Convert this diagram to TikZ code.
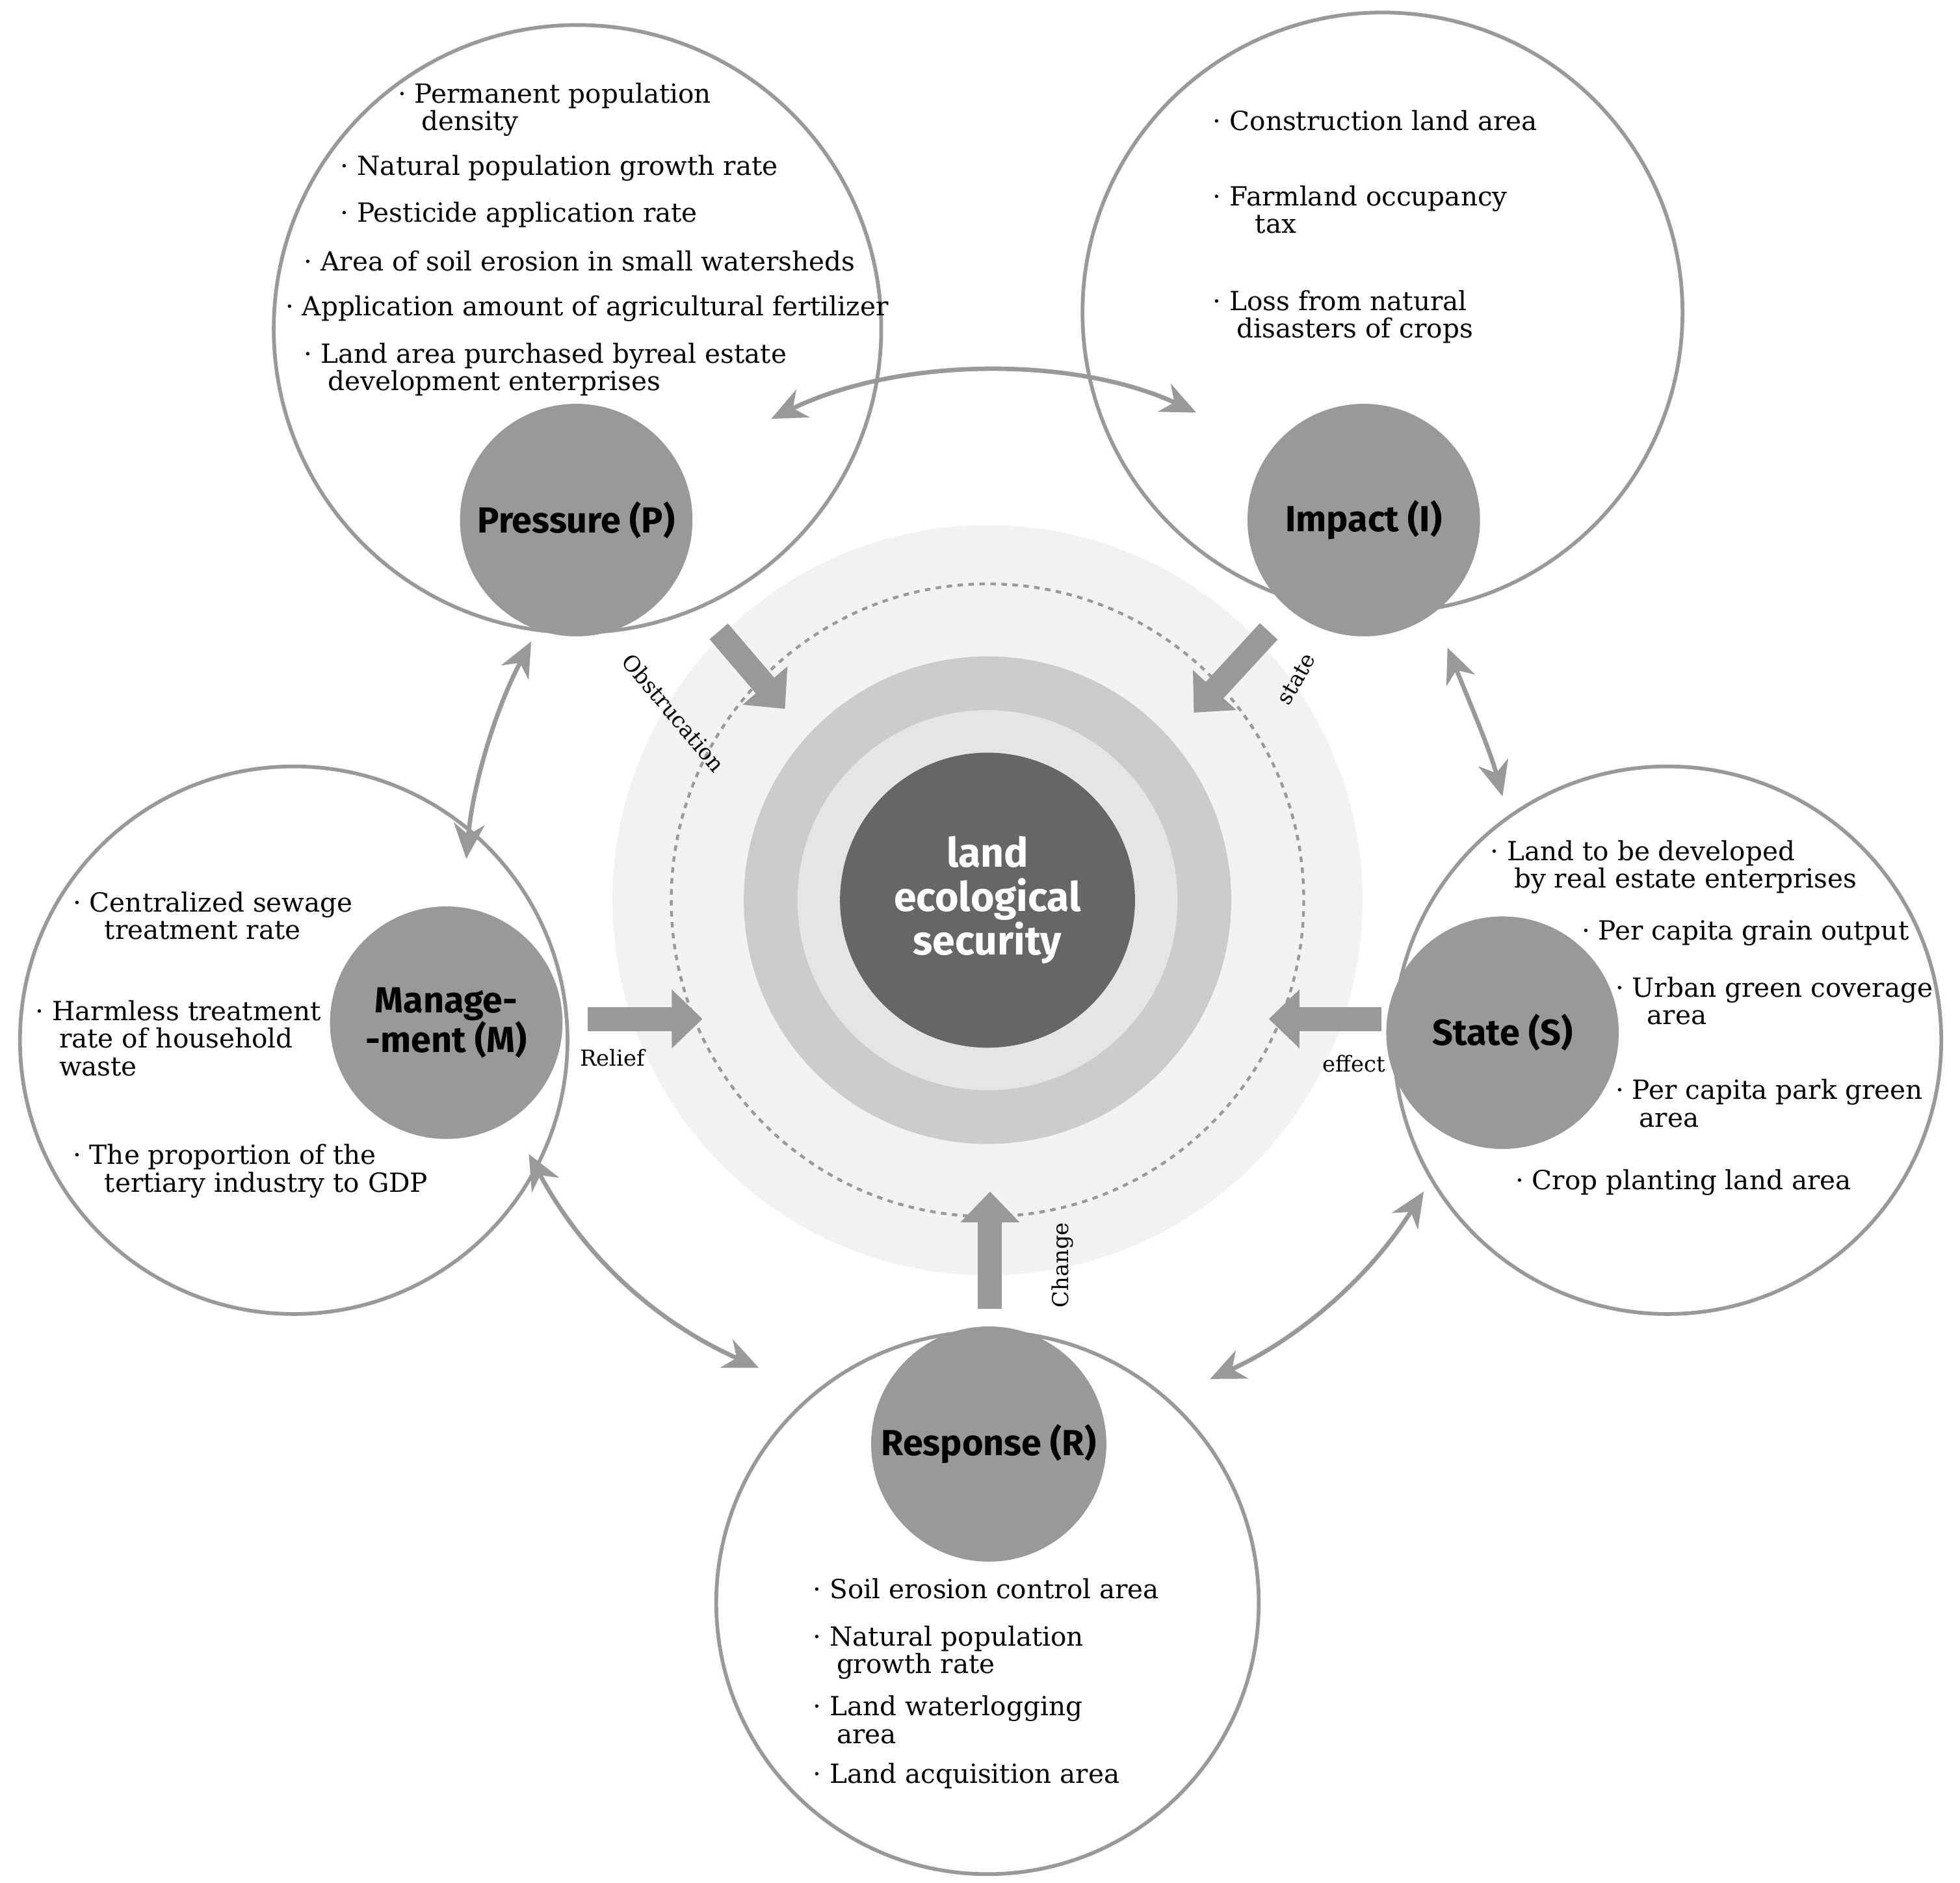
\documentclass[tikz,border=0pt]{standalone}
\usepackage{fontspec}
\setmainfont{DejaVu Serif}
\newfontfamily\lab{Fira Sans}
\usetikzlibrary{arrows.meta}
\definecolor{g9}{HTML}{999999}
\begin{document}
\begin{tikzpicture}[x=0.02cm,y=-0.02cm,
 big/.style={draw=g9,line width=1.7pt,fill=white},
 dot/.style={fill=g9},
 lbl/.style={font=\lab\bfseries\fontsize{16.5}{18}\selectfont,align=center},
 itm/.style={anchor=north west,inner sep=0pt,align=left,font=\fontsize{12}{12.5}\selectfont},
 thick arr/.style={g9,line width=11pt,-{Triangle[length=14pt,width=26pt]}},
 dbl/.style={g9,line width=2pt,{Stealth[length=16pt,width=14pt,inset=5pt]}-{Stealth[length=16pt,width=14pt,inset=5pt]}},
 sm/.style={font=\fontsize{10}{12}\selectfont}]
\useasboundingbox (0,0) rectangle (1568,1506);
% big circles
\node[big,circle,minimum size=486*0.02cm] (P) at (462,263) {};
\node[big,circle,minimum size=480*0.02cm] (I) at (1106,250) {};
\node[big,circle,minimum size=438*0.02cm] (M) at (235,832) {};
\node[big,circle,minimum size=438*0.02cm] (S) at (1334,832) {};
\node[big,circle,minimum size=434*0.02cm] (R) at (790,1282) {};
% centre
\fill[gray!10] (790,720) circle (300);
\draw[g9,line width=1.3pt,dash pattern=on 2.5pt off 2.5pt] (790,720) circle (253);
\fill[gray!40] (790,720) circle (195);
\fill[gray!20] (790,720) circle (152);
\node[circle,fill=black!60,minimum size=236*0.02cm,text=white,lbl,font=\lab\bfseries\fontsize{18.5}{20}\selectfont] (C) at (790,720) {land\\ecological\\security};
% small circles
\node[dot,circle,minimum size=186*0.02cm,lbl] (p) at (461,416) {Pressure (P)};
\node[dot,circle,minimum size=186*0.02cm,lbl] (i) at (1091,416) {Impact (I)};
\node[dot,circle,minimum size=186*0.02cm,lbl] (m) at (357,818) {Manage-\\-ment (M)};
\node[dot,circle,minimum size=186*0.02cm,lbl] (s) at (1202,826) {State (S)};
\node[dot,circle,minimum size=186*0.02cm,lbl] (r) at (791,1155) {Response (R)};
% thick arrows
\coordinate (pa) at (575,505); \coordinate (pb) at (628,567);
\coordinate (ia) at (1015,505); \coordinate (ib) at (955,570);
\coordinate (ma) at (470,815); \coordinate (mb) at (562,815);
\coordinate (sa) at (1105,815); \coordinate (sb) at (1015,815);
\coordinate (ra) at (792,1047); \coordinate (rb) at (792,953);
\draw[thick arr] (pa) -- (pb);
\draw[thick arr] (ia) -- (ib);
\draw[thick arr] (ma) -- (mb);
\draw[thick arr] (sa) -- (sb);
\draw[thick arr] (ra) -- (rb);
\node[sm,rotate=-50] (t1) at (539,570) {Obstrucation};
\node[sm,rotate=60] (t2) at (1037,543) {state};
\node[sm] (t3) at (490,846) {Relief};
\node[sm] (t4) at (1083,851) {effect};
\node[sm,rotate=90] (t5) at (850,1012) {Change};
% double arrows
\coordinate (a1) at (617,335); \coordinate (a2) at (957,330);
\coordinate (b1) at (425,513); \coordinate (b2) at (373,687);
\coordinate (c1) at (1158,518); \coordinate (c2) at (1202,637);
\coordinate (d1) at (423,923); \coordinate (d2) at (607,1094);
\coordinate (e1) at (1139,953); \coordinate (e2) at (968,1103);
\draw[dbl] (a1) .. controls (720,285) and (860,285) .. (a2);
\draw[dbl] (b1) .. controls (395,570) and (378,630) .. (b2);
\draw[dbl] (c1) .. controls (1175,560) and (1192,600) .. (c2);
\draw[dbl] (d1) .. controls (470,1010) and (530,1060) .. (d2);
\draw[dbl] (e1) .. controls (1090,1030) and (1030,1075) .. (e2);
% texts
\def\b{\textperiodcentered\ }
\node[itm] at (318,66) {\b Permanent population\\\hspace{0.9em}density};
\node[itm] at (272,124) {\b Natural population growth rate};
\node[itm] at (272,161) {\b Pesticide application rate};
\node[itm] at (243,200) {\b Area of soil erosion in small watersheds};
\node[itm] at (228,236) {\b Application amount of agricultural fertilizer};
\node[itm] at (243,274) {\b Land area purchased byreal estate\\\hspace{0.9em}development enterprises};
\node[itm] at (970,88) {\b Construction land area};
\node[itm] at (970,148) {\b Farmland occupancy\\\hspace{1.6em}tax};
\node[itm] at (970,232) {\b Loss from natural\\\hspace{0.9em}disasters of crops};
\node[itm] at (58,713) {\b Centralized sewage\\\hspace{1.2em}treatment rate};
\node[itm] at (28,800) {\b Harmless treatment\\\hspace{0.9em}rate of household\\\hspace{0.9em}waste};
\node[itm] at (58,915) {\b The proportion of the\\\hspace{1.2em}tertiary industry to GDP};
\node[itm] at (1192,672) {\b Land to be developed\\\hspace{0.9em}by real estate enterprises};
\node[itm] at (1265,736) {\b Per capita grain output};
\node[itm] at (1292,781) {\b Urban green coverage\\\hspace{1.2em}area};
\node[itm] at (1292,863) {\b Per capita park green\\\hspace{0.9em}area};
\node[itm] at (1212,935) {\b Crop planting land area};
\node[itm] at (650,1262) {\b Soil erosion control area};
\node[itm] at (650,1300) {\b Natural population\\\hspace{0.9em}growth rate};
\node[itm] at (650,1356) {\b Land waterlogging\\\hspace{0.9em}area};
\node[itm] at (650,1410) {\b Land acquisition area};
\end{tikzpicture}
\end{document}
